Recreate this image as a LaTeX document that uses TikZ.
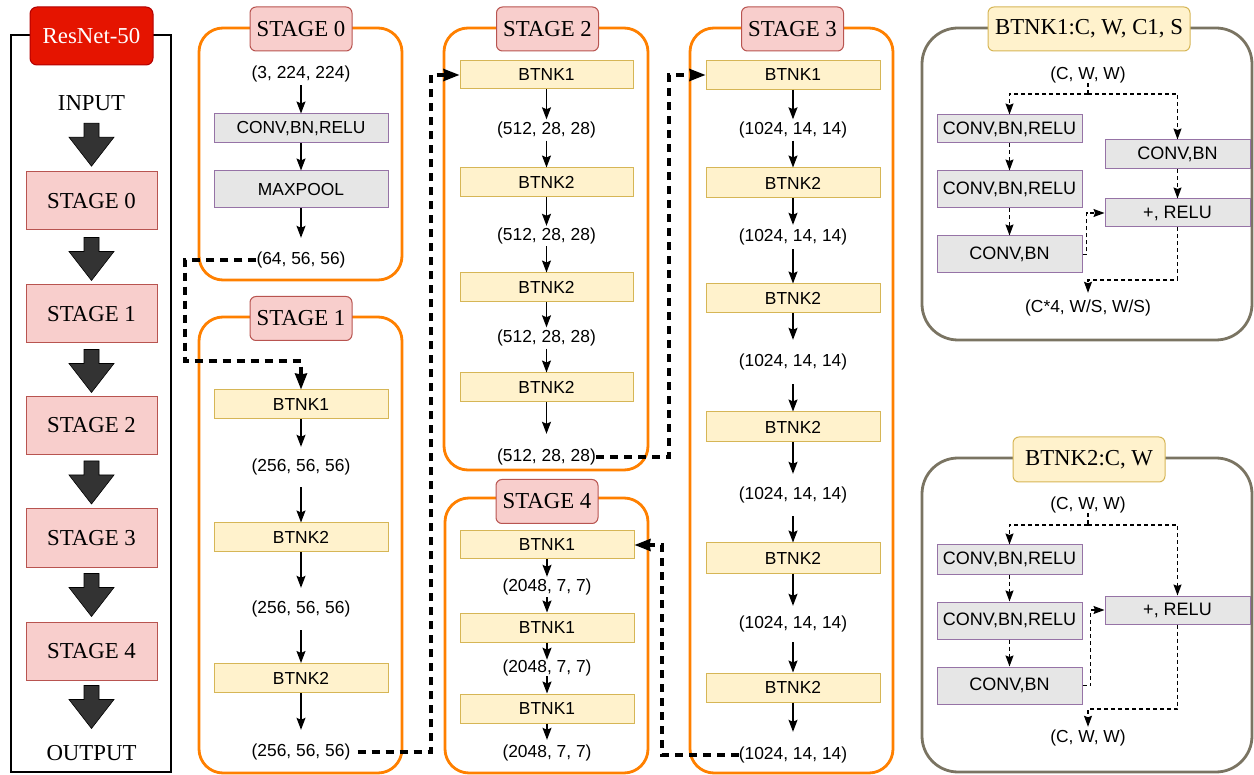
\documentclass[tikz,border=0pt]{standalone}
\usepackage{fontspec}
\setmainfont{Liberation Serif}
\setsansfont{Liberation Sans}
\usetikzlibrary{arrows.meta,calc}
\definecolor{orng}{HTML}{FF8000}
\definecolor{stgf}{HTML}{F8CECC}
\definecolor{stgd}{HTML}{B85450}
\definecolor{rdf}{HTML}{E51400}
\definecolor{rdd}{HTML}{B20000}
\definecolor{ylwf}{HTML}{FFF2CC}
\definecolor{ylwd}{HTML}{D6B656}
\definecolor{grf}{HTML}{E6E6E6}
\definecolor{grd}{HTML}{9673A6}
\definecolor{pnl}{RGB}{122,116,98}
\definecolor{bigc}{HTML}{333333}
\newcommand{\serf}{\rmfamily\fontsize{22.8}{26}\selectfont}
\newcommand{\sanf}{\sffamily\fontsize{17.4}{20}\selectfont}
\newcommand{\sanp}{\sffamily\fontsize{18}{21}\selectfont}
\newcommand{\bigarr}[2]{\filldraw[fill=bigc,draw=black,line width=0.6pt]
  ($(#1.south)+(-7.5,#2)$) -- ++(15,0) -- ++(0,14) -- ++(15,0) -- ++(-22.5,29) -- ++(-22.5,-29) -- ++(15,0) -- cycle;}
\begin{document}
\begin{tikzpicture}[x=1pt,y=-1pt,
  container/.style={draw=orng,line width=2.8pt,rounded corners=24pt},
  panel/.style={draw=pnl,line width=2.8pt,rounded corners=36pt},
  stghead/.style={draw=stgd,fill=stgf,line width=1pt,rounded corners=6pt,font=\serf,inner sep=0pt,minimum width=102pt,minimum height=44pt},
  stgbox/.style={draw=stgd,fill=stgf,line width=1pt,font=\serf,inner sep=0pt,minimum width=131pt,minimum height=58pt},
  ybox/.style={draw=ylwd,fill=ylwf,line width=1pt,font=\sanf,inner sep=0pt,minimum width=174pt,minimum height=29pt},
  gbox/.style={draw=grd,fill=grf,line width=1pt,font=\sanf,inner sep=0pt,minimum width=174pt,minimum height=29pt},
  pbox/.style={gbox,minimum width=145pt,font=\sanp},
  lbl/.style={font=\sanf,inner sep=0pt,minimum height=22pt},
  arr/.style={line width=1.4pt,-{Stealth[length=12pt,width=9pt,inset=2pt]}},
  dconn/.style={line width=3.2pt,dash pattern=on 8pt off 6pt,-{Stealth[length=16pt,width=12pt,inset=1pt]}},
  dthin/.style={line width=1.2pt,dash pattern=on 4pt off 3pt,-{Stealth[length=11pt,width=8pt,inset=1.5pt]}},
  dthinnoarr/.style={line width=1.2pt,dash pattern=on 4pt off 3pt},
  ptitle/.style={draw=ylwd,fill=ylwf,line width=1pt,rounded corners=6pt,font=\serf,inner sep=0pt,minimum height=44pt},
]
\useasboundingbox (0,0) rectangle (1254,775);

% ---------------- left column ----------------
\draw[line width=2.5pt] (11,35) rectangle (171,772);
\node[draw=rdd,fill=rdf,line width=1pt,rounded corners=7pt,minimum width=123pt,minimum height=58pt,font=\serf,text=white,inner sep=0pt] (rn) at (91.5,36) {ResNet-50};
\node[font=\serf,inner sep=0pt,minimum height=22pt] (inp) at (91.5,103) {INPUT};
\node[stgbox] (s0) at (91.5,201) {STAGE 0};
\node[stgbox] (s1) at (91.5,314) {STAGE 1};
\node[stgbox] (s2) at (91.5,425.5) {STAGE 2};
\node[stgbox] (s3) at (91.5,538) {STAGE 3};
\node[stgbox] (s4) at (91.5,651) {STAGE 4};
\node[font=\serf,inner sep=0pt] (outp) at (91.5,753) {OUTPUT};
\bigarr{inp}{9}
\bigarr{s0}{7}
\bigarr{s1}{6}
\bigarr{s2}{6}
\bigarr{s3}{6}
\bigarr{s4}{5}

% ---------------- containers ----------------
\draw[container] (199,28) rectangle (402,280);
\draw[container] (199,317) rectangle (402,773);
\draw[container] (444,28) rectangle (648,470);
\draw[container] (690,28) rectangle (893,773);
\draw[container] (445,498) rectangle (648,773);
\node[stghead] (h0) at (301,29) {STAGE 0};
\node[stghead] (h1) at (301,318.5) {STAGE 1};
\node[stghead] (h2) at (547.5,29) {STAGE 2};
\node[stghead] (h3) at (792.5,29) {STAGE 3};
\node[stghead] (h4) at (547,501.5) {STAGE 4};

% ---------------- stage 0 ----------------
\node[lbl] (l00) at (301,74) {(3, 224, 224)};
\node[gbox] (c00) at (301,128.5) {CONV,BN,RELU};
\node[gbox,minimum height=37pt] (c01) at (301,189.5) {MAXPOOL};
\node[lbl,minimum height=44pt] (l01) at (301,260) {(64, 56, 56)};
\draw[arr] (l00.south) -- (c00.north);
\draw[arr] (c00.south) -- (c01.north);
\draw[arr] (c01.south) -- (l01.north);

% ---------------- stage 1 ----------------
\node[ybox] (b10) at (301,404.5) {BTNK1};
\node[lbl,minimum height=40pt] (l10) at (301,467) {(256, 56, 56)};
\node[ybox] (b11) at (301,537.5) {BTNK2};
\node[lbl,minimum height=42pt] (l11) at (301,609) {(256, 56, 56)};
\node[ybox] (b12) at (301,678) {BTNK2};
\node[lbl,minimum height=44pt] (l12) at (301,752) {(256, 56, 56)};
\draw[arr] (b10.south) -- (l10.north);
\draw[arr] (l10.south) -- (b11.north);
\draw[arr] (b11.south) -- (l11.north);
\draw[arr] (l11.south) -- (b12.north);
\draw[arr] (b12.south) -- (l12.north);
\coordinate (j1) at (185,361);
\draw[dconn] (l01.west) -| (j1) -- (j1 -| b10.north) -- (b10.north);

% ---------------- stage 2 ----------------
\node[ybox,minimum width=173pt,minimum height=28pt] (b20) at (546.5,75) {BTNK1};
\node[lbl,minimum height=21pt] (l20) at (546.5,130) {(512, 28, 28)};
\node[ybox,minimum width=173pt] (b21) at (546.5,182.5) {BTNK2};
\node[lbl,minimum height=20pt] (l21) at (546.5,236) {(512, 28, 28)};
\node[ybox,minimum width=173pt] (b22) at (546.5,287.5) {BTNK2};
\node[lbl,minimum height=21pt] (l22) at (546.5,338) {(512, 28, 28)};
\node[ybox,minimum width=173pt] (b23) at (546.5,387.5) {BTNK2};
\node[lbl,minimum height=46pt] (l23) at (546.5,457) {(512, 28, 28)};
\draw[arr] (b20.south) -- (l20.north);
\draw[arr] (l20.south) -- (b21.north);
\draw[arr] (b21.south) -- (l21.north);
\draw[arr] (l21.south) -- (b22.north);
\draw[arr] (b22.south) -- (l22.north);
\draw[arr] (l22.south) -- (b23.north);
\draw[arr] (b23.south) -- (l23.north);
\coordinate (j2) at (431,75);
\draw[dconn,shorten <=7pt] (l12.east) -| (j2) -- (b20.west);

% ---------------- stage 3 ----------------
\node[ybox] (b30) at (793,75) {BTNK1};
\node[lbl,minimum height=21pt] (l30) at (793,130) {(1024, 14, 14)};
\node[ybox,minimum height=30pt] (b31) at (793,183) {BTNK2};
\node[lbl,minimum height=24pt] (l31) at (793,237) {(1024, 14, 14)};
\node[ybox] (b32) at (793,298.5) {BTNK2};
\node[lbl,minimum height=44pt] (l32) at (793,362) {(1024, 14, 14)};
\node[ybox,minimum height=30pt] (b33) at (793,427) {BTNK2};
\node[lbl,minimum height=42pt] (l33) at (793,495) {(1024, 14, 14)};
\node[ybox,minimum height=30pt] (b34) at (793,558) {BTNK2};
\node[lbl,minimum height=36pt] (l34) at (793,624) {(1024, 14, 14)};
\node[ybox] (b35) at (793,687.5) {BTNK2};
\node[lbl,minimum height=46pt] (l35) at (793,755) {(1024, 14, 14)};
\draw[arr] (b30.south) -- (l30.north);
\draw[arr] (l30.south) -- (b31.north);
\draw[arr] (b31.south) -- (l31.north);
\draw[arr] (l31.south) -- (b32.north);
\draw[arr] (b32.south) -- (l32.north);
\draw[arr] (l32.south) -- (b33.north);
\draw[arr] (b33.south) -- (l33.north);
\draw[arr] (l33.south) -- (b34.north);
\draw[arr] (b34.south) -- (l34.north);
\draw[arr] (l34.south) -- (b35.north);
\draw[arr] (b35.south) -- (l35.north);
\coordinate (j3) at (669,75);
\draw[dconn] (l23.east) -| (j3) -- (b30.west);

% ---------------- stage 4 ----------------
\node[ybox,minimum height=28pt] (b40) at (547,545) {BTNK1};
\node[lbl,minimum height=20pt] (l40) at (547,587) {(2048, 7, 7)};
\node[ybox] (b41) at (547,627.5) {BTNK1};
\node[lbl,minimum height=15pt] (l41) at (547,668) {(2048, 7, 7)};
\node[ybox] (b42) at (547,708.5) {BTNK1};
\node[lbl,minimum height=26pt] (l42) at (547,753) {(2048, 7, 7)};
\draw[arr] (b40.south) -- (l40.north);
\draw[arr] (l40.south) -- (b41.north);
\draw[arr] (b41.south) -- (l41.north);
\draw[arr] (l41.south) -- (b42.north);
\draw[arr] (b42.south) -- (l42.north);
\coordinate (j4) at (662,545);
\draw[dconn] (l35.west) -| (j4) -- (b40.east);

% ---------------- BTNK1 panel ----------------
\draw[panel] (922,28) rectangle (1252,340);
\node[ptitle,minimum width=202pt] (pt1) at (1089,29) {BTNK1:C, W, C1, S};
\node[lbl,minimum height=16pt] (pi1) at (1088,75) {(C, W, W)};
\node[pbox,minimum height=28pt] (p1a) at (1009.5,129) {CONV,BN,RELU};
\node[pbox,minimum height=37pt] (p1b) at (1009.5,189.5) {CONV,BN,RELU};
\node[pbox,minimum height=37pt] (p1c) at (1009.5,254.5) {CONV,BN};
\node[pbox] (p1d) at (1177.5,154.5) {CONV,BN};
\node[pbox,minimum height=28pt] (p1e) at (1177.5,213) {+, RELU};
\node[lbl,minimum height=30pt] (po1) at (1088,308) {(C*4, W/S, W/S)};
\coordinate (q1) at (1088,94);
\draw[dthinnoarr] (pi1.south) -- (q1);
\draw[dthin] (q1) -| (p1a.north);
\draw[dthin] (q1) -| (p1d.north);
\draw[dthin] (p1a.south) -- (p1b.north);
\draw[dthin] (p1b.south) -- (p1c.north);
\draw[dthin] (p1c.east) -- ++(4,0) |- (p1e.west);
\draw[dthin] (p1d.south) -- (p1e.north);
\coordinate (r1) at (1088,280);
\draw[dthin] (p1e.south) |- (r1) -- (po1.north);

% ---------------- BTNK2 panel ----------------
\draw[panel] (922,458) rectangle (1252,772);
\node[ptitle,minimum width=152pt,minimum height=45pt] (pt2) at (1089,459.5) {BTNK2:C, W};
\node[lbl,minimum height=16pt] (pi2) at (1088,505) {(C, W, W)};
\node[pbox] (p2a) at (1009.5,559.5) {CONV,BN,RELU};
\node[pbox,minimum height=37pt] (p2b) at (1009.5,620.5) {CONV,BN,RELU};
\node[pbox,minimum height=37pt] (p2c) at (1009.5,685.5) {CONV,BN};
\node[pbox,minimum height=28pt] (p2e) at (1177.5,610) {+, RELU};
\node[lbl,minimum height=22pt] (po2) at (1088,738) {(C, W, W)};
\coordinate (q2) at (1088,525);
\draw[dthinnoarr] (pi2.south) -- (q2);
\draw[dthin] (q2) -| (p2a.north);
\draw[dthin] (q2) -| (p2e.north);
\draw[dthin] (p2a.south) -- (p2b.north);
\draw[dthin] (p2b.south) -- (p2c.north);
\draw[dthin] (p2c.east) -- ++(8,0) |- (p2e.west);
\coordinate (r2) at (1088,709);
\draw[dthin] (p2e.south) |- (r2) -- (po2.north);
\end{tikzpicture}
\end{document}
